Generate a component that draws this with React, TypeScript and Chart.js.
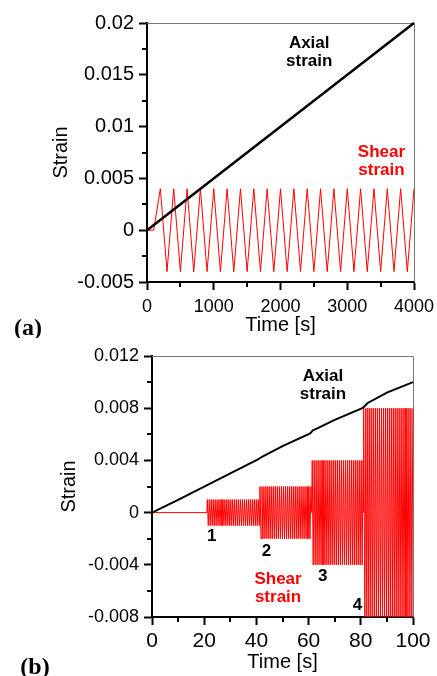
import React, { useEffect, useRef } from 'react';
import { Chart, registerables } from 'chart.js';

Chart.register(...registerables);

// ---------------- Panel (a) data ----------------
const timeA = [
  0, 100, 200, 300, 400, 500, 600, 700, 800, 900, 1000, 1100, 1200, 1300, 1400, 1500, 1600, 1700, 1800, 1900, 2000,
  2100, 2200, 2300, 2400, 2500, 2600, 2700, 2800, 2900, 3000, 3100, 3200, 3300, 3400, 3500, 3600, 3700, 3800, 3900, 4000,
];
const shearA = [
  0, 0, 0.004, -0.004, 0.004, -0.004, 0.004, -0.004, 0.004, -0.004, 0.004, -0.004, 0.004, -0.004, 0.004, -0.004, 0.004,
  -0.004, 0.004, -0.004, 0.004, -0.004, 0.004, -0.004, 0.004, -0.004, 0.004, -0.004, 0.004, -0.004, 0.004, -0.004,
  0.004, -0.004, 0.004, -0.004, 0.004, -0.004, 0.004, -0.004, 0.004,
];
const axialTimeA = [0, 4000];
const axialA = [0, 0.02];
const xTicksA = [0, 1000, 2000, 3000, 4000];
const xTickLabelsA = ['0', '1000', '2000', '3000', '4000'];
const yTicksA = [-0.005, 0, 0.005, 0.01, 0.015, 0.02];
const yTickLabelsA = ['-0.005', '0', '0.005', '0.01', '0.015', '0.02'];

// ---------------- Panel (b) data ----------------
const axialTimeB = [0, 10, 20, 30, 40.6, 41.5, 42.5, 50, 60.6, 61.6, 62.5, 70, 80.8, 81.7, 82.5, 90, 100];
const axialB = [0, 0.00098, 0.00199, 0.003, 0.00407, 0.0042, 0.0043, 0.0051, 0.00606, 0.0063, 0.00638, 0.0071, 0.00803, 0.0082, 0.00838, 0.0092, 0.01];
const shearStageStartB = [21, 41.2, 61.2, 81.0];
const shearStageEndB = [41.2, 61.2, 81.0, 100];
const shearStageAmpB = [0.001, 0.002, 0.004, 0.008];
const shearPeriodB = 0.75;
const xTicksB = [0, 20, 40, 60, 80, 100];
const xTickLabelsB = ['0', '20', '40', '60', '80', '100'];
const yTicksB = [-0.008, -0.004, 0, 0.004, 0.008, 0.012];
const yTickLabelsB = ['-0.008', '-0.004', '0', '0.004', '0.008', '0.012'];

const FONT = "'Liberation Sans', Arial, sans-serif";

function pairs(xs: number[], ys: number[]) {
  return xs.map((x, i) => ({ x, y: ys[i] }));
}

function buildShearB() {
  const pts: { x: number; y: number }[] = [{ x: 0, y: 0 }];
  for (let k = 0; k < shearStageStartB.length; k++) {
    const s = shearStageStartB[k];
    const e = shearStageEndB[k];
    const a = shearStageAmpB[k];
    pts.push({ x: s, y: 0 });
    let sign = 1;
    for (let t = s + shearPeriodB / 4; t <= e + 1e-9; t += shearPeriodB / 2) {
      pts.push({ x: t, y: sign * a });
      sign = -sign;
    }
  }
  return pts;
}

type Label = { x: number; y: number; lines: string[]; color: string; size: number };

const minorTicks = {
  id: 'minorTicks',
  afterDraw(chart: any) {
    const ctx = chart.ctx;
    ctx.save();
    ctx.strokeStyle = '#000';
    ctx.lineWidth = 2;
    for (const id of ['x', 'y']) {
      const s = chart.scales[id];
      const vals = s.ticks.map((t: any) => t.value);
      for (let i = 0; i < vals.length - 1; i++) {
        const p = Math.round(s.getPixelForValue((vals[i] + vals[i + 1]) / 2));
        ctx.beginPath();
        if (id === 'x') {
          ctx.moveTo(p, s.top);
          ctx.lineTo(p, s.top + 5);
        } else {
          ctx.moveTo(s.right, p);
          ctx.lineTo(s.right - 5, p);
        }
        ctx.stroke();
      }
    }
    ctx.restore();
  },
};

const frame = {
  id: 'frame',
  beforeDatasetsDraw(chart: any) {
    const { ctx, chartArea } = chart;
    ctx.save();
    ctx.strokeStyle = '#777';
    ctx.lineWidth = 1;
    ctx.beginPath();
    ctx.moveTo(chartArea.left, chartArea.top + 0.5);
    ctx.lineTo(chartArea.right + 0.5, chartArea.top + 0.5);
    ctx.lineTo(chartArea.right + 0.5, chartArea.bottom);
    ctx.stroke();
    ctx.restore();
  },
};

function textPlugin(labels: Label[], panel: { text: string; x: number; y: number }) {
  return {
    id: 'texts',
    afterDraw(chart: any) {
      const ctx = chart.ctx;
      const sx = chart.scales.x;
      const sy = chart.scales.y;
      ctx.save();
      ctx.textAlign = 'center';
      ctx.textBaseline = 'middle';
      for (const l of labels) {
        const px = sx.getPixelForValue(l.x);
        const py = sy.getPixelForValue(l.y);
        ctx.font = `bold ${l.size}px ${FONT}`;
        ctx.fillStyle = l.color;
        const lh = 18;
        const y0 = py - ((l.lines.length - 1) * lh) / 2;
        l.lines.forEach((line, i) => ctx.fillText(line, px, y0 + i * lh));
      }
      ctx.font = "bold 24px 'Liberation Serif', 'Times New Roman', serif";
      ctx.fillStyle = '#000';
      ctx.fillText(panel.text, panel.x, panel.y);
      ctx.restore();
    },
  };
}

type PanelSpec = {
  height: number;
  pad: { left: number; right: number; top: number };
  yWidth: number;
  xHeight: number;
  xMin: number;
  xMax: number;
  yMin: number;
  yMax: number;
  xTicks: number[];
  xTickLabels: string[];
  yTicks: number[];
  yTickLabels: string[];
  xTickSize: number;
  yTickSize: number;
  xTickPad: number;
  xTitlePad: number;
  axial: { x: number; y: number }[];
  shear: { x: number; y: number }[];
  axialWidth: number;
  labels: Label[];
  panel: { text: string; x: number; y: number };
};

function buildConfig(p: PanelSpec): any {
  return {
    type: 'line',
    data: {
      datasets: [
        {
          label: 'Axial strain',
          data: p.axial,
          borderColor: '#000',
          borderWidth: p.axialWidth,
          pointRadius: 0,
          tension: 0,
          clip: false,
        },
        {
          label: 'Shear strain',
          data: p.shear,
          borderColor: '#ff0000',
          borderWidth: 1,
          pointRadius: 0,
          tension: 0,
          clip: false,
        },
      ],
    },
    options: {
      animation: false,
      responsive: false,
      devicePixelRatio: 1,
      layout: { padding: { left: p.pad.left, right: p.pad.right, top: p.pad.top, bottom: 0 } },
      plugins: { legend: { display: false }, tooltip: { enabled: false } },
      scales: {
        x: {
          type: 'linear',
          min: p.xMin,
          max: p.xMax,
          afterBuildTicks: (s: any) => {
            s.ticks = p.xTicks.map((v) => ({ value: v }));
          },
          afterFit: (s: any) => {
            s.height = p.xHeight;
            s.paddingLeft = 0;
            s.paddingRight = 0;
          },
          ticks: {
            autoSkip: false,
            maxRotation: 0,
            color: '#000',
            padding: p.xTickPad,
            font: { family: FONT, size: p.xTickSize },
            callback: (v: number) => {
              const i = p.xTicks.indexOf(v);
              return i >= 0 ? p.xTickLabels[i] : '';
            },
          },
          grid: { drawOnChartArea: false, tickLength: 8, tickColor: '#000', tickWidth: 2 },
          border: { display: true, color: '#000', width: 2 },
          title: {
            display: true,
            text: 'Time [s]',
            color: '#000',
            font: { family: FONT, size: 20 },
            padding: { top: 0, bottom: p.xTitlePad },
          },
        },
        y: {
          type: 'linear',
          min: p.yMin,
          max: p.yMax,
          afterBuildTicks: (s: any) => {
            s.ticks = p.yTicks.map((v) => ({ value: v }));
          },
          afterFit: (s: any) => {
            s.width = p.yWidth;
            s.paddingTop = 0;
            s.paddingBottom = 0;
          },
          ticks: {
            autoSkip: false,
            color: '#000',
            padding: 5,
            font: { family: FONT, size: p.yTickSize },
            callback: (v: number) => {
              const i = p.yTicks.indexOf(v);
              return i >= 0 ? p.yTickLabels[i] : '';
            },
          },
          grid: { drawOnChartArea: false, tickLength: 8, tickColor: '#000', tickWidth: 2 },
          border: { display: true, color: '#000', width: 2 },
          title: {
            display: true,
            text: 'Strain',
            color: '#000',
            font: { family: FONT, size: 20 },
            padding: { top: 0, bottom: 0 },
          },
        },
      },
    },
    plugins: [frame, minorTicks, textPlugin(p.labels, p.panel)],
  };
}

const specA: PanelSpec = {
  height: 338,
  pad: { left: 49, right: 23, top: 23 },
  yWidth: 98,
  xHeight: 56,
  xMin: 0,
  xMax: 4000,
  yMin: -0.005,
  yMax: 0.02,
  xTicks: xTicksA,
  xTickLabels: xTickLabelsA,
  yTicks: yTicksA,
  yTickLabels: yTickLabelsA,
  xTickSize: 18,
  yTickSize: 20,
  xTickPad: 6,
  xTitlePad: 1,
  axial: pairs(axialTimeA, axialA),
  shear: pairs(timeA, shearA),
  axialWidth: 2.5,
  labels: [
    { x: 2430, y: 0.0172, lines: ['Axial', 'strain'], color: '#000', size: 17 },
    { x: 3513, y: 0.00663, lines: ['Shear', 'strain'], color: '#ff0000', size: 17 },
  ],
  panel: { text: '(a)', x: 28, y: 329 },
};

const specB: PanelSpec = {
  height: 338,
  pad: { left: 57, right: 24, top: 18 },
  yWidth: 95,
  xHeight: 59,
  xMin: 0,
  xMax: 100,
  yMin: -0.008,
  yMax: 0.012,
  xTicks: xTicksB,
  xTickLabels: xTickLabelsB,
  yTicks: yTicksB,
  yTickLabels: yTickLabelsB,
  xTickSize: 21,
  yTickSize: 18,
  xTickPad: 4,
  xTitlePad: 2,
  axial: pairs(axialTimeB, axialB),
  shear: buildShearB(),
  axialWidth: 2,
  labels: [
    { x: 65.5, y: 0.00978, lines: ['Axial', 'strain'], color: '#000', size: 17 },
    { x: 22.9, y: -0.00185, lines: ['1'], color: '#000', size: 17 },
    { x: 43.9, y: -0.003, lines: ['2'], color: '#000', size: 17 },
    { x: 65.4, y: -0.00491, lines: ['3'], color: '#000', size: 17 },
    { x: 78.7, y: -0.00708, lines: ['4'], color: '#000', size: 17 },
    { x: 48.3, y: -0.00582, lines: ['Shear', 'strain'], color: '#ff0000', size: 17 },
  ],
  panel: { text: '(b)', x: 35, y: 330 },
};

function Panel({ spec, top }: { spec: PanelSpec; top: number }) {
  const ref = useRef<HTMLCanvasElement>(null);
  useEffect(() => {
    const chart = new Chart(ref.current as HTMLCanvasElement, buildConfig(spec));
    return () => chart.destroy();
  }, []);
  return (
    <canvas
      ref={ref}
      width={437}
      height={spec.height}
      style={{ position: 'absolute', left: 0, top, width: 437, height: spec.height, display: 'block' }}
    />
  );
}

export default function App() {
  return (
    <div style={{ position: 'absolute', left: 0, top: 0, width: 437, height: 676, background: '#fff', overflow: 'hidden' }}>
      <Panel spec={specA} top={0} />
      <Panel spec={specB} top={338} />
    </div>
  );
}
